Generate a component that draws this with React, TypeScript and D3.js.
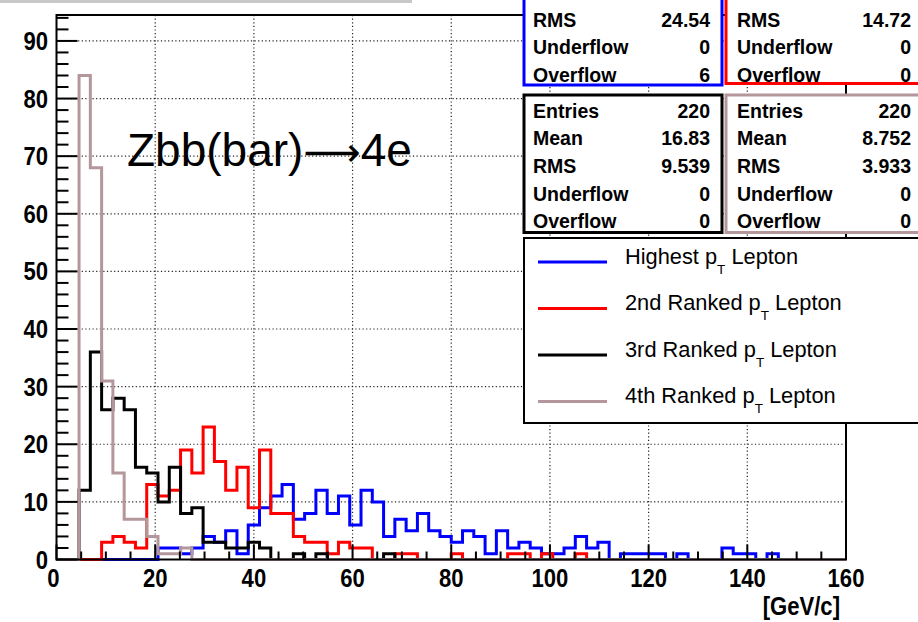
import React from 'react';
import * as d3 from 'd3';

const W = 918;
const H = 622;
const X_DOMAIN = [0, 160];
const N_BINS = 70;
const Y_MAX = 94.5;

// bin contents, 70 bins from 0 to 160 GeV/c
const highestCounts = [
  0, 0, 0, 0, 0, 0, 0, 0, 0, 2,
  2, 1, 2, 4, 3, 5, 1, 6, 9, 11,
  13, 7, 8, 12, 8, 11, 6, 12, 10, 4,
  7, 5, 8, 5, 4, 3, 5, 4, 1, 5,
  2, 3, 2, 1, 1, 2, 4, 2, 3, 0,
  1, 1, 1, 1, 0, 1, 0, 0, 0, 2,
  1, 1, 0, 1, 0, 0, 0, 0, 0, 0,
];
const secondCounts = [
  0, 0, 0, 0, 3, 4, 3, 2, 13, 11,
  12, 19, 15, 23, 17, 12, 16, 9, 19, 8,
  8, 4, 3, 3, 1, 3, 2, 2, 0, 0,
  1, 1, 0, 0, 0, 1, 0, 0, 0, 0,
  1, 1, 0, 1, 0, 0, 1, 0, 0, 0,
  0, 0, 0, 0, 0, 0, 0, 0, 0, 0,
  0, 0, 0, 0, 0, 0, 0, 0, 0, 0,
];
const thirdCounts = [
  0, 0, 12, 36, 26, 28, 26, 16, 15, 10,
  16, 8, 9, 3, 3, 2, 2, 3, 2, 0,
  0, 1, 0, 1, 0, 0, 0, 0, 0, 1,
  0, 0, 0, 0, 0, 0, 0, 0, 0, 0,
  0, 0, 0, 0, 0, 0, 0, 0, 0, 0,
  0, 0, 0, 0, 0, 0, 0, 0, 0, 0,
  0, 0, 0, 0, 0, 0, 0, 0, 0, 0,
];
const fourthCounts = [
  0, 0, 84, 68, 31, 15, 7, 7, 4, 1,
  1, 2, 0, 0, 0, 0, 0, 0, 0, 0,
  0, 0, 0, 0, 0, 0, 0, 0, 0, 0,
  0, 0, 0, 0, 0, 0, 0, 0, 0, 0,
  0, 0, 0, 0, 0, 0, 0, 0, 0, 0,
  0, 0, 0, 0, 0, 0, 0, 0, 0, 0,
  0, 0, 0, 0, 0, 0, 0, 0, 0, 0,
];

const seriesColors = ['#0000ff', '#ff0000', '#000000', '#b4979b'];
const seriesCounts = [highestCounts, secondCounts, thirdCounts, fourthCounts];
const legendPrefix = ['Highest p', '2nd Ranked p', '3rd Ranked p', '4th Ranked p'];
const legendSuffix = ' Lepton';

const xMajorTicks = [0, 20, 40, 60, 80, 100, 120, 140, 160];
const yMajorTicks = [0, 10, 20, 30, 40, 50, 60, 70, 80, 90];

const blueStats = [['RMS', '24.54'], ['Underflow', '0'], ['Overflow', '6']];
const redStats = [['RMS', '14.72'], ['Underflow', '0'], ['Overflow', '0']];
const blackStats = [['Entries', '220'], ['Mean', '16.83'], ['RMS', '9.539'], ['Underflow', '0'], ['Overflow', '0']];
const greyStats = [['Entries', '220'], ['Mean', '8.752'], ['RMS', '3.933'], ['Underflow', '0'], ['Overflow', '0']];

const titleMain = 'Zbb(bar)';
const titleArrow = '\u27F6';
const titleEnd = '4e';
const xUnitLabel = '[GeV/c]';

const FONT = '"Liberation Sans", Arial, Helvetica, sans-serif';

const frame = { left: 56.5, right: 846, top: 15, bottom: 559.5 };
const LABEL_SIZE = 26;
const LABEL_SQUEEZE = 0.85;

export default function App() {
  const x = d3.scaleLinear().domain(X_DOMAIN).range([frame.left, frame.right]);
  const y = d3.scaleLinear().domain([0, Y_MAX]).range([frame.bottom, frame.top]);
  const binW = (X_DOMAIN[1] - X_DOMAIN[0]) / N_BINS;

  const histPath = (counts: number[]) => {
    const pts: [number, number][] = [[X_DOMAIN[0], 0]];
    counts.forEach((c, i) => {
      pts.push([X_DOMAIN[0] + i * binW, c]);
      pts.push([X_DOMAIN[0] + (i + 1) * binW, c]);
    });
    pts.push([X_DOMAIN[1], 0]);
    return d3.line<[number, number]>().x(d => x(d[0])).y(d => y(d[1]))(pts) || '';
  };

  const xMinor = d3.range(0, 160.001, 5).filter(v => v % 20 !== 0);
  const yMinor = d3.range(0, Y_MAX, 2).filter(v => v % 10 !== 0);

  const squeezed = (tx: number, ty: number, s: string, anchor: string, key: string) => (
    <text key={key} transform={`translate(${tx},${ty}) scale(${LABEL_SQUEEZE},1)`} x={0} y={0}
      textAnchor={anchor} fontFamily={FONT} fontWeight="bold" fontSize={LABEL_SIZE} fill="#000">{s}</text>
  );

  const statBox = (
    rows: string[][], x0: number, x1: number, top: number, bottom: number,
    color: string, firstBaseline: number, labelX: number, valueX: number, key: string,
  ) => (
    <g key={key}>
      <rect x={x0} y={top} width={x1 - x0} height={bottom - top} fill="#fff" stroke={color} strokeWidth={3} />
      {rows.map((r, i) => (
        <g key={i}>
          <text x={labelX} y={firstBaseline + i * 27.7} fontFamily={FONT} fontWeight="bold" fontSize={19.5} fill="#000">{r[0]}</text>
          <text x={valueX} y={firstBaseline + i * 27.7} fontFamily={FONT} fontWeight="bold" fontSize={19.5} fill="#000" textAnchor="end">{r[1]}</text>
        </g>
      ))}
    </g>
  );

  const legendRowY = [263.5, 310, 356.5, 403];

  return (
    <svg width={W} height={H} viewBox={`0 0 ${W} ${H}`}
      style={{ position: 'fixed', left: 0, top: 0, background: '#fff' }}>
      <rect x={0} y={0} width={W} height={H} fill="#fff" />
      <line x1={0} x2={412} y1={1.5} y2={1.5} stroke="#c8c8c8" strokeWidth={3} />

      {/* grid */}
      {xMajorTicks.filter(v => v > 0 && v < 160).map(v => (
        <line key={'gx' + v} x1={x(v)} x2={x(v)} y1={frame.top} y2={frame.bottom}
          stroke="#222" strokeWidth={1.2} strokeDasharray="1.2,2.4" />
      ))}
      {yMajorTicks.filter(v => v > 0).map(v => (
        <line key={'gy' + v} x1={frame.left} x2={frame.right} y1={y(v)} y2={y(v)}
          stroke="#222" strokeWidth={1.2} strokeDasharray="1.2,2.4" />
      ))}

      {/* title */}
      <text x={127} y={166} fontFamily={FONT} fontSize={46} fill="#000">
        {titleMain}
        <tspan fontFamily='"DejaVu Sans", sans-serif' fontSize={40}>{titleArrow}</tspan>
        {titleEnd}
      </text>

      {/* histograms */}
      {seriesCounts.map((c, i) => (
        <path key={'h' + i} d={histPath(c)} fill="none" stroke={seriesColors[i]} strokeWidth={3} strokeLinejoin="miter" />
      ))}

      {/* frame */}
      <rect x={frame.left} y={frame.top} width={frame.right - frame.left} height={frame.bottom - frame.top}
        fill="none" stroke="#000" strokeWidth={2} />

      {/* x ticks */}
      {xMajorTicks.map(v => (
        <line key={'xt' + v} x1={x(v)} x2={x(v)} y1={frame.bottom} y2={frame.bottom - 15} stroke="#000" strokeWidth={2} />
      ))}
      {xMinor.map(v => (
        <line key={'xm' + v} x1={x(v)} x2={x(v)} y1={frame.bottom} y2={frame.bottom - 8} stroke="#000" strokeWidth={2} />
      ))}
      {/* y ticks */}
      {yMajorTicks.map(v => (
        <line key={'yt' + v} x1={frame.left} x2={frame.left + 21} y1={y(v)} y2={y(v)} stroke="#000" strokeWidth={2} />
      ))}
      {yMinor.map(v => (
        <line key={'ym' + v} x1={frame.left} x2={frame.left + 12} y1={y(v)} y2={y(v)} stroke="#000" strokeWidth={2} />
      ))}

      {/* tick labels */}
      {xMajorTicks.map(v => squeezed(x(v) - (v === 0 ? 3 : 0), 587, String(v), 'middle', 'xl' + v))}
      {yMajorTicks.map(v => squeezed(48, y(v) + 9, String(v), 'end', 'yl' + v))}
      {squeezed(840, 615, xUnitLabel, 'end', 'unit')}

      {/* stat boxes */}
      {statBox(blueStats, 524, 722, -80, 85, '#0000ff', 26.5, 533, 710, 'sb')}
      {statBox(redStats, 726, 940, -80, 83.5, '#ff0000', 26.5, 737, 911, 'sr')}
      {statBox(blackStats, 524, 722, 95, 232.5, '#000000', 117.5, 533, 710, 'sk')}
      {statBox(greyStats, 726, 940, 95, 232.5, seriesColors[3], 117.5, 737, 911, 'sg')}

      {/* legend */}
      <rect x={524} y={238} width={420} height={185} fill="#fff" stroke="#000" strokeWidth={2} />
      {legendPrefix.map((p, i) => (
        <g key={'lg' + i}>
          <line x1={538} x2={607} y1={legendRowY[i] - 1.5} y2={legendRowY[i] - 1.5} stroke={seriesColors[i]} strokeWidth={3} />
          <text x={625} y={legendRowY[i]} fontFamily={FONT} fontSize={21.8} fill="#000">
            {p}
            <tspan fontSize={13.5} dy={10}>T</tspan>
            <tspan fontSize={21.8} dy={-10}>{legendSuffix}</tspan>
          </text>
        </g>
      ))}
    </svg>
  );
}
